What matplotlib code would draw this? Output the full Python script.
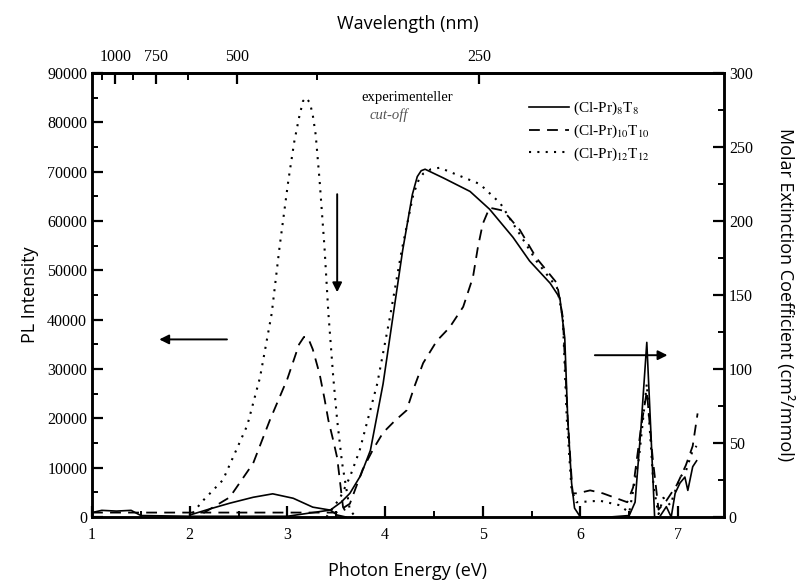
import numpy as np
import matplotlib
matplotlib.use("Agg")
from matplotlib import pyplot as plt
from matplotlib.lines import Line2D
from matplotlib.ticker import MultipleLocator, FixedLocator

plt.rcParams['font.family'] = 'Liberation Serif'
plt.rcParams['mathtext.fontset'] = 'stix'

# PL intensity (left axis), photon energy in eV
pl_x_8 = [2.0, 2.2, 2.41, 2.65, 2.85, 3.06, 3.26, 3.44, 3.51, 3.6]
pl_y_8 = [400, 1600, 2800, 4000, 4700, 3800, 2000, 1400, 400, 0]
pl_x_10 = [2.14, 2.41, 2.65, 2.82, 3.0, 3.06, 3.12, 3.17, 3.21, 3.26, 3.33, 3.38, 3.42, 3.47,
           3.51, 3.57, 3.62]
pl_y_10 = [800, 4000, 10900, 19600, 28000, 31500, 35000, 36500, 36400, 34000, 29000, 24000,
           19600, 15500, 12000, 2000, 300]
pl_x_12 = [2.03, 2.14, 2.34, 2.59, 2.72, 2.84, 2.92, 3.01, 3.07, 3.12, 3.16, 3.19, 3.23, 3.26,
           3.29, 3.33, 3.38, 3.42, 3.47, 3.51, 3.56, 3.61, 3.64, 3.7]
pl_y_12 = [800, 3400, 7500, 18600, 28300, 41300, 54700, 68200, 76000, 81000, 84300, 85000,
           84000, 81500, 77500, 68200, 54700, 41300, 28300, 19600, 11000, 5000, 1400, 0]

# molar extinction coefficient (right axis)
ab_x_8 = [1.0, 1.1, 1.25, 1.4, 1.5, 2.0, 3.0, 3.44, 3.55, 3.64, 3.75, 3.85, 3.98, 4.08, 4.18,
          4.28, 4.33, 4.37, 4.41, 4.6, 4.87, 5.07, 5.31, 5.48, 5.69, 5.79, 5.84, 5.87, 5.91,
          5.94, 6.0, 6.3, 6.5, 6.56, 6.62, 6.68, 6.72, 6.76, 6.81, 6.88, 6.93, 6.97, 7.02,
          7.07, 7.10, 7.15, 7.19]
ab_y_8 = [3, 4.5, 4, 4.5, 1, 0.5, 0.5, 4.7, 10, 16, 28, 45, 90, 135, 180,
          218, 230, 234, 235, 229, 220, 208, 189, 173, 158, 148, 121, 67, 23,
          6, 0, 0, 1, 10, 60, 118, 60, 0, 0, 7, 0, 16, 23,
          27, 18, 34, 38]
ab_x_10 = [1.0, 2.0, 3.0, 3.5, 3.64, 3.77, 3.88, 3.98, 4.1, 4.22, 4.3, 4.39, 4.53, 4.66, 4.80,
           4.90, 4.95, 5.0, 5.07, 5.21, 5.38, 5.55, 5.76, 5.82, 5.87, 5.92, 5.97, 6.1, 6.23,
           6.48, 6.54, 6.62, 6.68, 6.74, 6.8, 6.88, 6.99, 7.08, 7.15, 7.20]
ab_y_10 = [3, 3, 3, 3, 9, 32, 46, 57, 65, 72, 88, 104, 119, 128, 142,
           162, 182, 198, 209, 207, 194, 175, 158, 135, 67, 16, 16, 18, 16,
           10, 20, 60, 85, 40, 5, 11, 22, 35, 48, 70]
ab_x_12 = [3.4, 3.54, 3.64, 3.74, 3.92, 4.05, 4.17, 4.29, 4.34, 4.39, 4.47, 4.56, 4.97, 5.18,
           5.38, 5.55, 5.76, 5.82, 5.86, 5.91, 5.96, 6.2, 6.4, 6.5, 6.6, 6.68, 6.75, 6.8,
           6.85, 6.92, 7.02, 7.08, 7.15, 7.19]
ab_y_12 = [0, 13, 27, 45, 90, 135, 180, 218, 227, 232, 235, 236, 225, 212,
           191, 173, 155, 135, 67, 18, 10, 11, 8, 3, 40, 90, 20, 2,
           13, 8, 27, 31, 45, 48]

labels = [r'(Cl-Pr)$_8$T$_8$', r'(Cl-Pr)$_{10}$T$_{10}$', r'(Cl-Pr)$_{12}$T$_{12}$']
wl_labels = [1000, 750, 500, 250]

solid = dict(color='black', lw=1.2, ls='-')
dashed = dict(color='black', lw=1.3, ls=(0, (6, 4)))
dotted = dict(color='black', lw=1.5, ls=(0, (1, 3)))

fig = plt.figure(figsize=(7.96, 5.8), dpi=100)
ax = fig.add_axes([0.1156, 0.1086, 0.7939, 0.7655])
ax2 = ax.twinx()

ax.plot(pl_x_8, pl_y_8, **solid)
ax.plot(pl_x_10, pl_y_10, **dashed)
ax.plot(pl_x_12, pl_y_12, **dotted)
ax2.plot(ab_x_8, ab_y_8, **solid)
ax2.plot(ab_x_10, ab_y_10, **dashed)
ax2.plot(ab_x_12, ab_y_12, **dotted)

ax.set_xlim(1, 7.47)
ax.set_ylim(0, 90000)
ax2.set_ylim(0, 300)

ax.xaxis.set_major_locator(MultipleLocator(1))
ax.xaxis.set_minor_locator(MultipleLocator(0.5))
ax.yaxis.set_major_locator(MultipleLocator(10000))
ax.yaxis.set_minor_locator(MultipleLocator(5000))
ax2.yaxis.set_major_locator(MultipleLocator(50))
ax2.yaxis.set_minor_locator(MultipleLocator(25))

for a in (ax, ax2):
    for s in a.spines.values():
        s.set_linewidth(1.8)
    a.tick_params(which='major', direction='in', length=8, width=1.6, labelsize=11.5)
    a.tick_params(which='minor', direction='in', length=4, width=1.4)
ax.tick_params(axis='x', which='both', top=False)
ax.tick_params(axis='x', pad=7)

top = ax.secondary_xaxis('top', functions=(lambda e: 1240.0 / e, lambda w: 1240.0 / w))
top.xaxis.set_major_locator(FixedLocator(wl_labels))
top.xaxis.set_minor_locator(FixedLocator([1125, 875, 625, 375]))
top.tick_params(which='major', direction='in', length=8, width=1.6, labelsize=11.5, pad=6)
top.tick_params(which='minor', direction='in', length=5, width=1.4)
top.spines['top'].set_linewidth(1.8)
top.set_xlabel('Wavelength (nm)', family='Open Sans', fontsize=13, labelpad=14)

ax.set_xlabel('Photon Energy (eV)', family='Open Sans', fontsize=13, labelpad=14)
ax.set_ylabel('PL Intensity', family='Open Sans', fontsize=13, labelpad=6)
ax2.set_ylabel('Molar Extinction Coefficient (cm²/mmol)', family='Open Sans', fontsize=13,
               rotation=-90, labelpad=30)

# arrows
ax.annotate('', xy=(3.51, 45000), xytext=(3.51, 66000),
            arrowprops=dict(arrowstyle='-|>', color='black', lw=1.4, mutation_scale=14))
ax.annotate('', xy=(1.66, 36000), xytext=(2.41, 36000),
            arrowprops=dict(arrowstyle='-|>', color='black', lw=1.4, mutation_scale=14))
ax.annotate('', xy=(6.92, 32800), xytext=(6.12, 32800),
            arrowprops=dict(arrowstyle='-|>', color='black', lw=1.4, mutation_scale=14))

ax.text(3.76, 85000, 'experimenteller', fontsize=10.5, va='center', ha='left')
ax.text(3.84, 81400, 'cut-off', fontsize=10.5, va='center', ha='left', style='italic',
        color='#555555')

handles = [Line2D([], [], **solid), Line2D([], [], **dashed), Line2D([], [], **dotted)]
ax.legend(handles, labels, loc='upper left', bbox_to_anchor=(0.67, 0.97), frameon=False,
          fontsize=11, handlelength=2.6, handletextpad=0.3, labelspacing=0.35)

fig.savefig('out.png', dpi=100)
